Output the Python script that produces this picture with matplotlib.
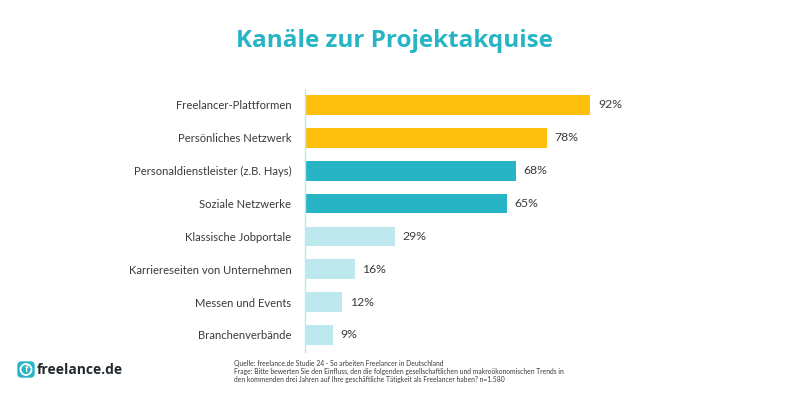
import matplotlib
matplotlib.use("Agg")
import matplotlib.pyplot as plt
from matplotlib.patches import FancyBboxPatch, Circle

categories = ["Freelancer-Plattformen", "Persönliches Netzwerk", "Personaldienstleister (z.B. Hays)",
              "Soziale Netzwerke", "Klassische Jobportale", "Karriereseiten von Unternehmen",
              "Messen und Events", "Branchenverbände"]
values = [92, 78, 68, 65, 29, 16, 12, 9]
colors = ["#FFBF0D", "#FFBF0D", "#27B5C6", "#27B5C6", "#BCE8EE", "#BCE8EE", "#BCE8EE", "#BCE8EE"]

title = "Kanäle zur Projektakquise"
source_lines = ["Quelle: freelance.de Studie 24 - So arbeiten Freelancer in Deutschland",
                "Frage: Bitte bewerten Sie den Einfluss, den die folgenden gesellschaftlichen und makroökonomischen Trends in",
                "den kommenden drei Jahren auf Ihre geschäftliche Tätigkeit als Freelancer haben? n=1.580"]

plt.rcParams['font.family'] = ['Lato', 'DejaVu Sans']

fig = plt.figure(figsize=(8, 4), dpi=100)
ax = fig.add_axes([305/800, 1-352/400, 310/800, 263/400])
ax.barh(range(len(values)), values, height=0.6, color=colors)
ax.set_xlim(0, 100)
ax.set_ylim(7.52, -0.487)
ax.set_yticks(range(len(categories)))
ax.set_yticklabels(categories, fontsize=8.1, color="#3a3a3a")
ax.tick_params(axis='y', length=0, pad=9.8)
ax.set_xticks([])
for s in ['top', 'right', 'bottom']:
    ax.spines[s].set_visible(False)
ax.spines['left'].set_color("#BCE8EE")
ax.spines['left'].set_linewidth(1)

for i, v in enumerate(values):
    ax.annotate(f"{v}%", (v, i), xytext=(5.6, 0), textcoords='offset points',
                va='center', fontsize=8.8, color="#3a3a3a")

fig.text(394.5/800, 1-41/400, title, ha='center', va='center', fontsize=17.5,
         fontweight='bold', color="#27B5C6", family=['Open Sans', 'DejaVu Sans'])

for line, y in zip(source_lines, [363.5, 371.5, 379.5]):
    fig.text(234/800, 1-y/400, line, ha='left', va='center', fontsize=4.9, color="#3a3a3a")

# logo
bg = fig.add_axes([0, 0, 1, 1], zorder=-1)
bg.set_xlim(0, 800)
bg.set_ylim(400, 0)
bg.axis('off')
bg.add_patch(FancyBboxPatch((18, 362), 16, 15, boxstyle="round,pad=0,rounding_size=3.5",
                            mutation_aspect=1, fc="#27B5C6", ec="#27B5C6", lw=1))
bg.add_patch(Circle((26, 369.5), 5.5, fc="none", ec="white", lw=1.3))
bg.text(26.2, 369.5, "f", color="white", fontsize=7, fontweight='bold', ha='center', va='center')
bg.text(37, 369.5, "freelance.de", fontsize=10, fontweight='bold', color="#222a30", ha='left', va='center',
        family=['Open Sans', 'DejaVu Sans'])

fig.savefig("out.png", dpi=100)
